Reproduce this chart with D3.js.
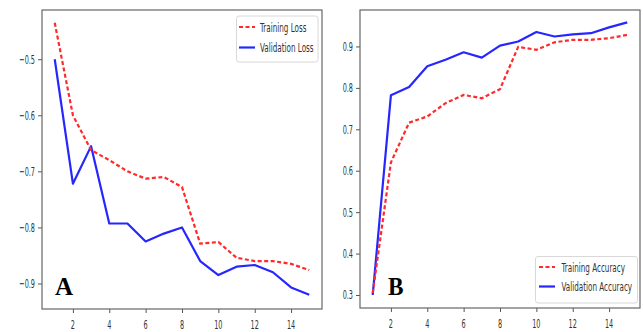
<!DOCTYPE html>
<html><head><meta charset="utf-8">
<script src="https://cdn.jsdelivr.net/npm/d3@7"></script>
<style>body{margin:0;background:#fff}svg{display:block}</style>
</head><body>
<svg id="c" width="643" height="332"></svg>
<script>
const epochs = [1,2,3,4,5,6,7,8,9,10,11,12,13,14,15];
const trainLoss = [-0.435,-0.600,-0.662,-0.680,-0.700,-0.713,-0.710,-0.728,-0.829,-0.826,-0.854,-0.860,-0.860,-0.865,-0.876];
const valLoss   = [-0.500,-0.722,-0.655,-0.793,-0.793,-0.825,-0.811,-0.800,-0.860,-0.885,-0.870,-0.867,-0.880,-0.907,-0.920];
const trainAcc  = [0.305,0.620,0.716,0.731,0.763,0.783,0.775,0.797,0.899,0.892,0.910,0.916,0.916,0.920,0.928];
const valAcc    = [0.300,0.782,0.802,0.852,0.868,0.886,0.873,0.902,0.912,0.935,0.924,0.929,0.932,0.946,0.958];
const xTicks = [2,4,6,8,10,12,14];
const lossTicks = [-0.5,-0.6,-0.7,-0.8,-0.9];
const accTicks = [0.3,0.4,0.5,0.6,0.7,0.8,0.9];
const lossLegend = ["Training Loss","Validation Loss"];
const accLegend = ["Training Accuracy","Validation Accuracy"];

const svg = d3.select("#c");
const fmt = d => (d<0 ? "\u2212" : "") + Math.abs(d).toFixed(1);

// draws condensed text: small font, stretched vertically (sy)
function ctext(parent, x, y, str, size, sy, anchor){
  return parent.append("text")
    .attr("transform",`translate(${x},${y}) scale(1,${sy})`)
    .attr("text-anchor",anchor||"start")
    .attr("fill","#333")
    .style("font-family","DejaVu Sans").style("font-size",size+"px")
    .text(str);
}

function panel(o){
  const g = svg.append("g");
  const x = d3.scaleLinear().domain([0.3,15.7]).range([o.x0,o.x1]);
  const y = d3.scaleLinear().domain(o.ydom).range([o.y1,o.y0]);
  const gx = g.append("g").attr("transform",`translate(0,${o.y1})`)
    .call(d3.axisBottom(x).tickValues(xTicks).tickSize(4).tickFormat(""));
  const gy = g.append("g").attr("transform",`translate(${o.x0},0)`)
    .call(d3.axisLeft(y).tickValues(o.yticks).tickSize(4).tickFormat(""));
  [gx,gy].forEach(a=>{
    a.select(".domain").remove();
    a.selectAll(".tick line").attr("stroke","#555").attr("stroke-width",1);
    a.selectAll(".tick text").remove();
  });
  xTicks.forEach(t=>ctext(g, x(t), o.y1+20, d3.format("d")(t), 6.5, 2, "middle"));
  o.yticks.forEach(t=>ctext(g, o.x0-7, y(t)+4.5, fmt(t), 6.5, 2, "end"));
  const line = d3.line().x((d,i)=>x(epochs[i])).y(d=>y(d));
  g.append("path").datum(o.val).attr("d",line).attr("fill","none")
    .attr("stroke","#2626ff").attr("stroke-width",2.2).attr("stroke-linejoin","round");
  g.append("path").datum(o.train).attr("d",line).attr("fill","none")
    .attr("stroke","#ff2a2a").attr("stroke-width",2.2).attr("stroke-dasharray","4,2.5");
  g.append("rect").attr("x",o.x0).attr("y",o.y0).attr("width",o.x1-o.x0).attr("height",o.y1-o.y0)
    .attr("fill","none").attr("stroke","#666").attr("stroke-width",1.2);
  const L = o.leg;
  g.append("rect").attr("x",L.x).attr("y",L.y).attr("width",L.w).attr("height",L.h).attr("rx",2.5)
    .attr("fill","#fff").attr("fill-opacity",0.85).attr("stroke","#d8d8d8").attr("stroke-width",1);
  const items = [{c:"#ff2a2a",d:"4,2.5",t:o.legText[0]},{c:"#2626ff",d:null,t:o.legText[1]}];
  items.forEach((it,i)=>{
    const yy = L.ly[i];
    g.append("line").attr("x1",L.lx0).attr("x2",L.lx1).attr("y1",yy).attr("y2",yy)
      .attr("stroke",it.c).attr("stroke-width",2.2).attr("stroke-dasharray",it.d);
    ctext(g, L.tx, yy+4.5, it.t, 7.2, 1.8, "start");
  });
  g.append("text").attr("transform",`translate(${o.lab.x},${o.lab.y}) scale(${o.lab.sx},1)`)
    .text(o.lab.t)
    .style("font-family","Liberation Serif").style("font-weight","bold").style("font-size","25px")
    .attr("fill","#000");
}

panel({x0:42,x1:322,y0:10,y1:309,ydom:[-0.9455,-0.4122],yticks:lossTicks,train:trainLoss,val:valLoss,
  legText:lossLegend,
  leg:{x:236.5,y:16,w:81.5,h:46,lx0:239,lx1:255,ly:[27,47.5],tx:260},
  lab:{x:55,y:295,t:"A",sx:1}});
panel({x0:360,x1:640,y0:10,y1:308,ydom:[0.2686,0.988],yticks:accTicks,train:trainAcc,val:valAcc,
  legText:accLegend,
  leg:{x:535.5,y:256.5,w:102,h:46.5,lx0:539,lx1:555,ly:[267,286.5],tx:561.5},
  lab:{x:388,y:295,t:"B",sx:0.93}});
</script>
</body></html>
